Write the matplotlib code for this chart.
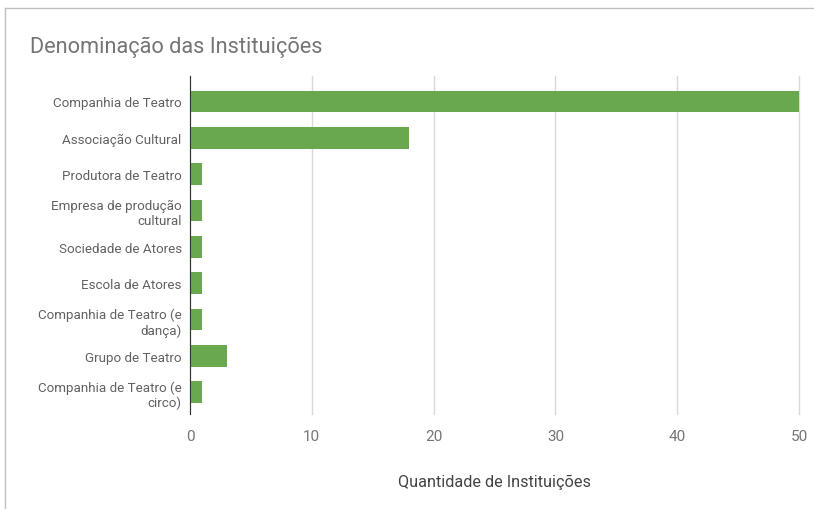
import matplotlib.pyplot as plt
from matplotlib.lines import Line2D

plt.rcParams["font.family"] = ["Roboto", "DejaVu Sans"]

CATEGORIES = [
    "Companhia de Teatro",
    "Associação Cultural",
    "Produtora de Teatro",
    "Empresa de produção\ncultural",
    "Sociedade de Atores",
    "Escola de Atores",
    "Companhia de Teatro (e\ndança)",
    "Grupo de Teatro",
    "Companhia de Teatro (e\ncirco)",
]
COUNTS = [50, 18, 1, 1, 1, 1, 1, 3, 1]
X_TICKS = [0, 10, 20, 30, 40, 50]

BAR_COLOR = "#6aa84f"


def main():
    fig = plt.figure(figsize=(8.14, 5.10), dpi=100)
    ax = fig.add_axes([190 / 814, 1 - 415 / 510, 609 / 814, 338 / 510])

    pos = list(range(len(CATEGORIES)))
    ax.barh(pos, COUNTS, height=0.6, color=BAR_COLOR, zorder=2)

    ax.set_xlim(0, 50)
    ax.set_ylim(len(CATEGORIES) - 0.4, -0.7)
    ax.set_xticks(X_TICKS)
    ax.set_xticklabels([str(t) for t in X_TICKS], fontsize=11, color="#757575")
    ax.set_yticks(pos)
    ax.set_yticklabels(CATEGORIES, fontsize=9.6, color="#616161", linespacing=1.2)
    ax.tick_params(axis="y", length=0, pad=6)
    ax.tick_params(axis="x", length=0, pad=11)

    ax.grid(axis="x", color="#d9d9d9", linewidth=1, zorder=0)
    for gl in ax.get_xgridlines():
        gl.set_clip_on(False)
    for side in ["top", "right", "bottom"]:
        ax.spines[side].set_visible(False)
    ax.spines["left"].set_color("#333333")
    ax.spines["left"].set_zorder(3)

    ax.set_xlabel("Quantidade de Instituições", fontsize=11.7, color="#444444", labelpad=22)

    fig.text(30 / 814, 1 - 47 / 510, "Denominação das Instituições",
             fontsize=15.7, color="#757575", va="center", ha="left")

    # outer frame lines (top and left)
    fig.add_artist(Line2D([5 / 814, 1], [1 - 9 / 510, 1 - 9 / 510],
                          transform=fig.transFigure, color="#c0c0c0", linewidth=1))
    fig.add_artist(Line2D([5 / 814, 5 / 814], [0, 1 - 9 / 510],
                          transform=fig.transFigure, color="#c0c0c0", linewidth=1))

    fig.savefig("out.png", dpi=100)
    plt.close(fig)


if __name__ == "__main__":
    main()
